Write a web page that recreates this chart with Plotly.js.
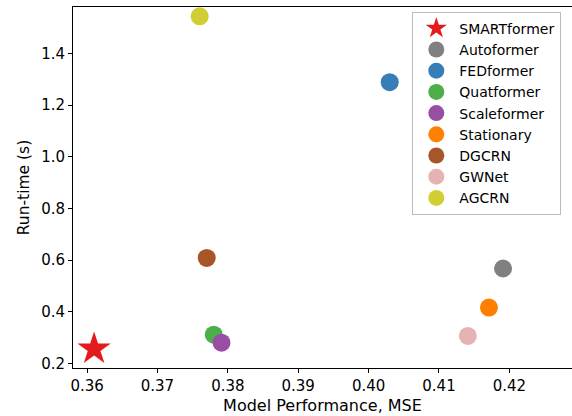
<!DOCTYPE html>
<html>
<head>
<meta charset="utf-8">
<script src="https://cdn.plot.ly/plotly-3.0.1.min.js"></script>
<style>html,body{margin:0;padding:0;background:#fff;}#chart{width:572px;height:416px;}</style>
</head>
<body>
<div id="chart"></div>
<script>
const models = ["SMARTformer","Autoformer","FEDformer","Quatformer","Scaleformer","Stationary","DGCRN","GWNet","AGCRN"];
const mse = [0.361, 0.4191, 0.4030, 0.3780, 0.3791, 0.4171, 0.3770, 0.4141, 0.3760];
const runtime = [0.257, 0.568, 1.289, 0.312, 0.281, 0.417, 0.609, 0.307, 1.544];
const colors = ["#e41a1c","#808080","#377eb8","#4daf4a","#984ea3","#ff7f00","#a65628","#e6b3b3","#cfcf33"];
const symbols = ["star","circle","circle","circle","circle","circle","circle","circle","circle"];
const sizes = [25,18,18,18,18,18,18,18,18];
const xTicks = [0.36,0.37,0.38,0.39,0.40,0.41,0.42];
const xTickText = ["0.36","0.37","0.38","0.39","0.40","0.41","0.42"];
const yTicks = [0.2,0.4,0.6,0.8,1.0,1.2,1.4];
const yTickText = ["0.2","0.4","0.6","0.8","1.0","1.2","1.4"];

const FONT = "DejaVu Sans, sans-serif";
const traces = models.map((m,i)=>({
  type:"scatter", mode:"markers", name:m,
  x:[mse[i]], y:[runtime[i]],
  marker:{symbol:symbols[i], size:sizes[i], color:colors[i], line:{width:0}},
  hoverinfo:"name+x+y"
}));

const layout = {
  width:572, height:416,
  margin:{l:73, r:0, t:7, b:48, pad:0},
  paper_bgcolor:"#fff", plot_bgcolor:"#fff",
  font:{family:FONT, size:15, color:"#000"},
  showlegend:true,
  xaxis:{
    range:[0.3580,0.4289], tickvals:xTicks, ticktext:xTickText,
    showgrid:false, zeroline:false, showline:true, linecolor:"#000", linewidth:1,
    mirror:true, ticks:"outside", ticklen:4, tickwidth:1, tickcolor:"#000",
    tickfont:{family:FONT, size:15, color:"#000"},
    automargin:true,
    title:{text:"Model Performance, MSE", font:{family:FONT, size:16, color:"#000"}, standoff:5}
  },
  yaxis:{
    range:[0.183,1.580], tickvals:yTicks, ticktext:yTickText,
    showgrid:false, zeroline:false, showline:true, linecolor:"#000", linewidth:1,
    ticks:"outside", ticklen:4, tickwidth:1, tickcolor:"#000",
    tickfont:{family:FONT, size:15, color:"#000"},
    automargin:true,
    title:{text:"Run-time (s)", font:{family:FONT, size:15.5, color:"#000"}, standoff:7}
  },
  legend:{
    x:0.68, y:0.987, xanchor:"left", yanchor:"top",
    bgcolor:"#fff", bordercolor:"#bbb", borderwidth:1,
    font:{family:FONT, size:14, color:"#000"},
    tracegroupgap:0, itemsizing:"trace", itemwidth:36
  },
  shapes:[{
    type:"rect", xref:"paper", yref:"paper", layer:"above",
    x0:0.687, x1:0.978, y0:0.424, y1:0.978,
    fillcolor:"#a8a8a8", line:{width:0}
  }]
};

Plotly.newPlot("chart", traces, layout, {staticPlot:true, displayModeBar:false});
</script>
</body>
</html>
